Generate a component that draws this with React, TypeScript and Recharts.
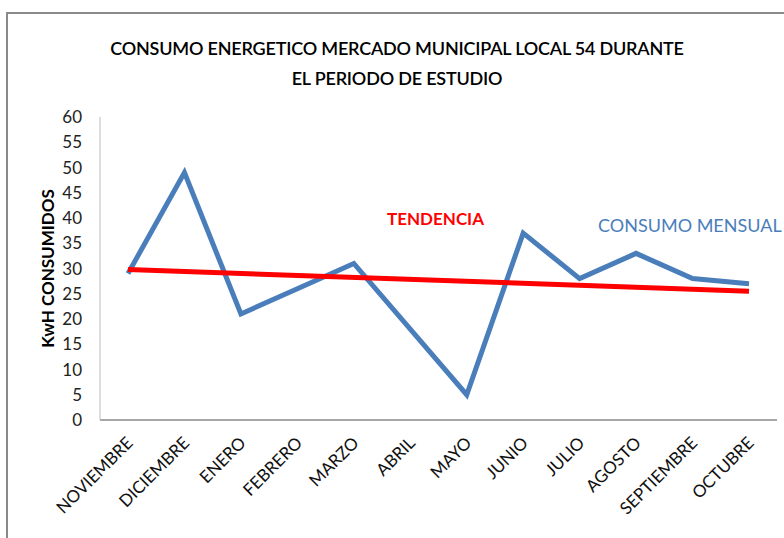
import { LineChart, Line, XAxis, YAxis } from "recharts";

const months = [
  "NOVIEMBRE", "DICIEMBRE", "ENERO", "FEBRERO", "MARZO", "ABRIL",
  "MAYO", "JUNIO", "JULIO", "AGOSTO", "SEPTIEMBRE", "OCTUBRE",
];
const consumo = [29, 49, 21, 26, 31, 18, 5, 37, 28, 33, 28, 27];
// trend line only has its two end points, drawn straight between them
const tendencia = [29.8, null, null, null, null, null, null, null, null, null, null, 25.5];
const yTicks = [0, 5, 10, 15, 20, 25, 30, 35, 40, 45, 50, 55, 60];

const data = months.map((m, i) => ({ mes: m, consumo: consumo[i], tendencia: tendencia[i] }));

const FONT = "Lato, 'Open Sans', sans-serif";

function MonthTick(props: any) {
  const { x, y, payload } = props;
  return (
    <text
      x={x + 6}
      y={y + 16}
      transform={`rotate(-45, ${x + 6}, ${y + 16})`}
      textAnchor="end"
      fontSize={17}
      fontFamily={FONT}
      fill="#111"
    >
      {payload.value}
    </text>
  );
}

export default function App() {
  return (
    <div style={{ position: "fixed", left: 0, top: 0, width: 784, height: 538, overflow: "hidden", background: "#fff", fontFamily: FONT }}>
      <div style={{ position: "absolute", left: 0, width: 794, top: 33, textAlign: "center", fontSize: 18, lineHeight: "30px", color: "#000", fontWeight: 600, letterSpacing: -0.2 }}>
        CONSUMO ENERGETICO MERCADO MUNICIPAL LOCAL 54 DURANTE
        <br />
        EL PERIODO DE ESTUDIO
      </div>
      <div style={{ position: "absolute", left: 387, top: 208, fontSize: 17, fontWeight: 700, color: "#ff0000" }}>TENDENCIA</div>
      <div style={{ position: "absolute", left: 598, top: 214, fontSize: 18, color: "#4a7ebb", whiteSpace: "nowrap" }}>CONSUMO MENSUAL</div>
      <div style={{ position: "absolute", left: 0, top: 0 }}>
        <LineChart width={784} height={538} data={data} margin={{ top: 117, right: 7, bottom: 18, left: 40 }}>
          <XAxis
            dataKey="mes"
            height={100}
            interval={0}
            padding={{ left: 28, right: 28 }}
            tickLine={false}
            axisLine={{ stroke: "#8a8a8a", strokeWidth: 1.5 }}
            tick={<MonthTick />}
          />
          <YAxis
            width={60}
            domain={[0, 60]}
            ticks={yTicks}
            interval={0}
            tickLine={false}
            tickSize={0}
            tickMargin={18}
            axisLine={{ stroke: "#bbbbbb", strokeWidth: 1 }}
            tick={{ fontSize: 17, fill: "#222", fontFamily: FONT }}
            label={{
              value: "KwH CONSUMIDOS",
              angle: -90,
              position: "insideLeft",
              offset: 8,
              style: { textAnchor: "middle", fontSize: 17, fontWeight: 700, fill: "#000", fontFamily: FONT },
            }}
          />
          <Line
            type="linear"
            dataKey="consumo"
            stroke="#4a7ebb"
            strokeWidth={5}
            dot={false}
            isAnimationActive={false}
          />
          <Line
            type="linear"
            dataKey="tendencia"
            stroke="#ff0000"
            strokeWidth={5}
            dot={false}
            connectNulls
            isAnimationActive={false}
          />
        </LineChart>
      </div>
      {/* outer chart frame: top and left edges */}
      <div style={{ position: "absolute", left: 6, top: 12, width: 790, height: 2, background: "#8a8a8a", zIndex: 2 }} />
      <div style={{ position: "absolute", left: 6, top: 12, width: 2, height: 540, background: "#8a8a8a", zIndex: 2 }} />
    </div>
  );
}
